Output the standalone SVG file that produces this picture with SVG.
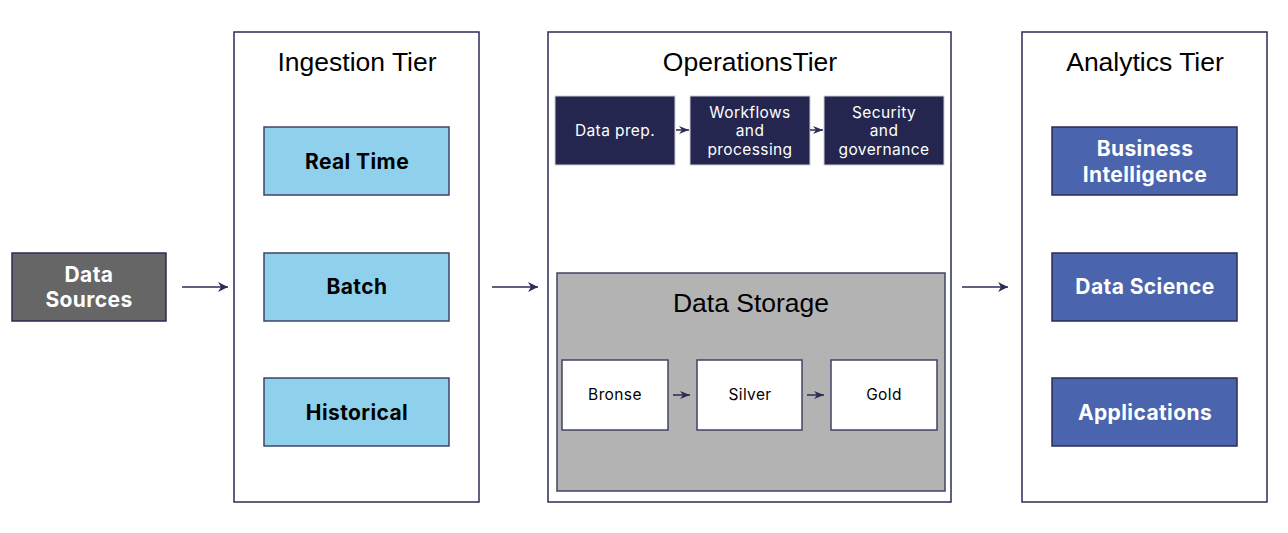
<svg xmlns="http://www.w3.org/2000/svg" width="1288" height="533" viewBox="0 0 1288 533">
<defs>
<marker id="ah" viewBox="0 0 10 10" refX="10" refY="5" markerWidth="10" markerHeight="10" markerUnits="userSpaceOnUse" orient="auto">
<path d="M0,0 L10,5 L0,10 L3,5 Z" fill="#2b2d55"/>
</marker>
<marker id="ahs" viewBox="0 0 10 10" refX="10" refY="5" markerWidth="12" markerHeight="10" markerUnits="userSpaceOnUse" orient="auto">
<path d="M0,1 L10,5 L0,9 L3,5 Z" fill="#2b2d55"/>
</marker>
<style>
.tier{fill:#fff;stroke:#2b2d55;stroke-width:1.5}
.title{font-family:"Liberation Sans",Arial,sans-serif;font-size:26.5px;fill:#000;text-anchor:middle}
.lb{fill:#8fd1ec;stroke:#3f4466;stroke-width:1.5}
.db{fill:#4a64ad;stroke:#2b2d55;stroke-width:1.5}
.nv{fill:#24264f;stroke:#d0d0d8;stroke-width:1}
.wb{fill:#fff;stroke:#3f4466;stroke-width:1.5}
.bold{font-family:Inter,"Open Sans",sans-serif;font-weight:700;font-size:21px;letter-spacing:0.4px;text-anchor:middle}
.sm{font-family:Inter,"Open Sans",sans-serif;font-size:15.5px;letter-spacing:0.4px;text-anchor:middle}
.conn{stroke:#2b2d55;stroke-width:1.5;fill:none}
</style>
</defs>
<rect width="1288" height="533" fill="#fff"/>

<g id="data-sources">
<rect x="12" y="253" width="154" height="68" fill="#666" stroke="#2b2d55" stroke-width="1.5"/>
<text class="bold" x="89" y="282" fill="#fff">Data</text>
<text class="bold" x="89" y="307" fill="#fff">Sources</text>
</g>

<g id="ingestion-tier">
<rect class="tier" x="234" y="32" width="245" height="470"/>
<text class="title" x="357" y="71">Ingestion Tier</text>
</g>
<g id="real-time"><rect class="lb" x="264" y="127" width="185" height="68"/><text class="bold" x="357" y="169">Real Time</text></g>
<g id="batch"><rect class="lb" x="264" y="253" width="185" height="68"/><text class="bold" x="357" y="294">Batch</text></g>
<g id="historical"><rect class="lb" x="264" y="378" width="185" height="68"/><text class="bold" x="357" y="420">Historical</text></g>

<g id="operations-tier">
<rect class="tier" x="548" y="32" width="403" height="470"/>
<text class="title" x="750" y="71">OperationsTier</text>
</g>
<g id="data-prep"><rect class="nv" x="555" y="96" width="120" height="69"/><text class="sm" x="615" y="136" fill="#fff">Data prep.</text></g>
<g id="workflows"><rect class="nv" x="690" y="96" width="120" height="69"/><text class="sm" x="750" y="118" fill="#fff">Workflows</text><text class="sm" x="750" y="136" fill="#fff">and</text><text class="sm" x="750" y="155" fill="#fff">processing</text></g>
<g id="security"><rect class="nv" x="824" y="96" width="120" height="69"/><text class="sm" x="884" y="118" fill="#fff">Security</text><text class="sm" x="884" y="136" fill="#fff">and</text><text class="sm" x="884" y="155" fill="#fff">governance</text></g>

<g id="data-storage">
<rect x="557" y="273" width="388" height="218" fill="#b3b3b3" stroke="#3f4466" stroke-width="1.5"/>
<text class="title" x="751" y="312">Data Storage</text>
</g>
<g id="bronse"><rect class="wb" x="562" y="360" width="106" height="70"/><text class="sm" x="615" y="400" fill="#000">Bronse</text></g>
<g id="silver"><rect class="wb" x="697" y="360" width="105" height="70"/><text class="sm" x="750" y="400" fill="#000">Silver</text></g>
<g id="gold"><rect class="wb" x="831" y="360" width="106" height="70"/><text class="sm" x="884" y="400" fill="#000">Gold</text></g>

<g id="analytics-tier">
<rect class="tier" x="1022" y="32" width="245" height="470"/>
<text class="title" x="1145" y="71">Analytics Tier</text>
</g>
<g id="bi"><rect class="db" x="1052" y="127" width="185" height="68"/><text class="bold" x="1145" y="156" fill="#fff">Business</text><text class="bold" x="1145" y="182" fill="#fff">Intelligence</text></g>
<g id="data-science"><rect class="db" x="1052" y="253" width="185" height="68"/><text class="bold" x="1145" y="294" fill="#fff">Data Science</text></g>
<g id="applications"><rect class="db" x="1052" y="378" width="185" height="68"/><text class="bold" x="1145" y="420" fill="#fff">Applications</text></g>

<g id="connectors">
<line class="conn" x1="182" y1="287" x2="228" y2="287" marker-end="url(#ah)"/>
<line class="conn" x1="492" y1="287" x2="538" y2="287" marker-end="url(#ah)"/>
<line class="conn" x1="962" y1="287" x2="1008" y2="287" marker-end="url(#ah)"/>
<line class="conn" x1="676" y1="130" x2="689" y2="130" stroke-width="1" marker-end="url(#ahs)"/>
<line class="conn" x1="810" y1="130" x2="823" y2="130" stroke-width="1" marker-end="url(#ahs)"/>
<line class="conn" x1="673" y1="395" x2="690" y2="395" stroke-width="1" marker-end="url(#ahs)"/>
<line class="conn" x1="807" y1="395" x2="824" y2="395" stroke-width="1" marker-end="url(#ahs)"/>
</g>
</svg>
